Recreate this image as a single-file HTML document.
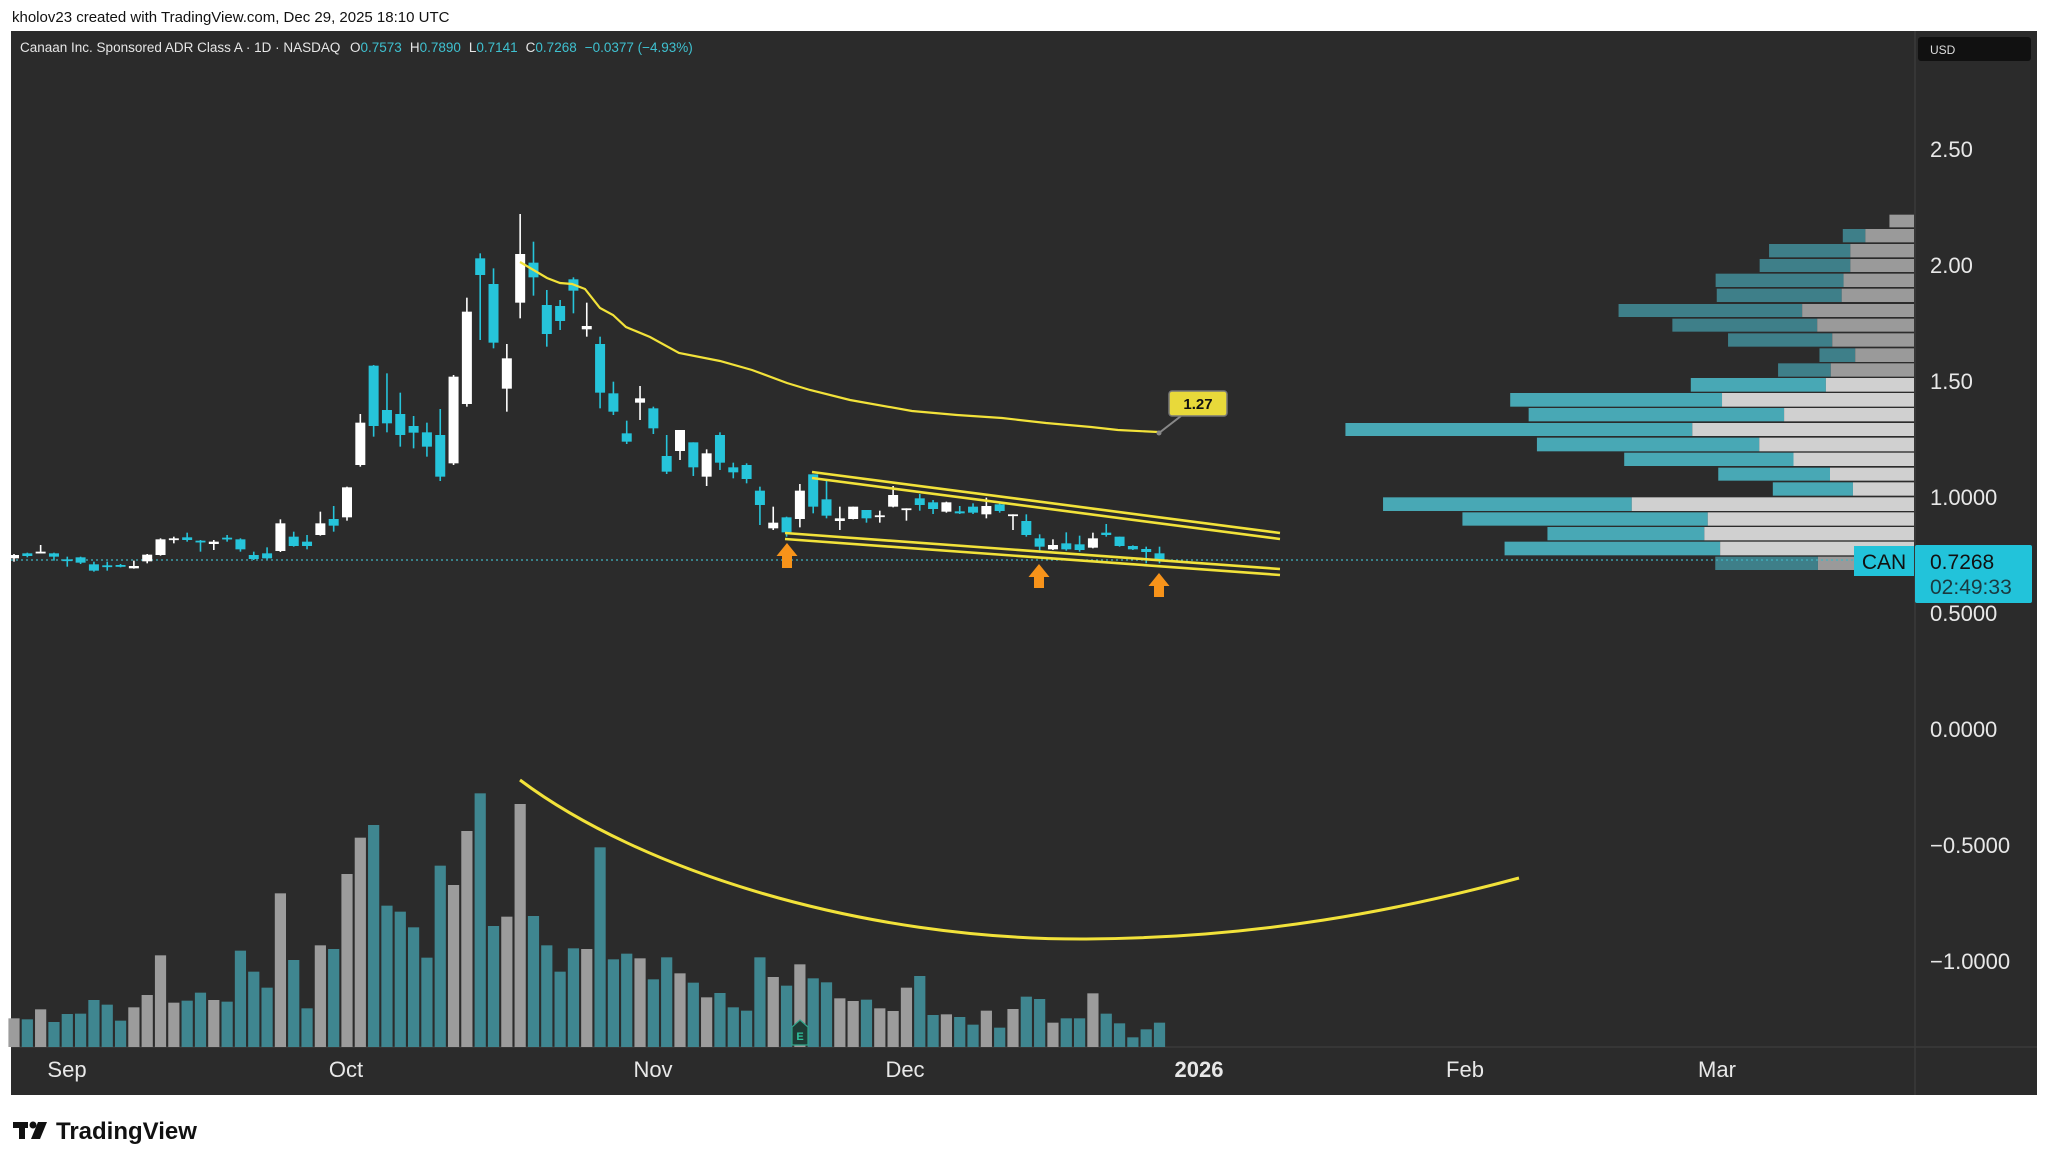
<!DOCTYPE html>
<html><head><meta charset="utf-8">
<style>
html,body{margin:0;padding:0;background:#fff;width:2048px;height:1163px;overflow:hidden;font-family:"Liberation Sans",sans-serif;}
svg{display:block}
</style></head>
<body>
<svg id="s" width="2048" height="1163" xmlns="http://www.w3.org/2000/svg" font-family="Liberation Sans, sans-serif">
<rect x="0" y="0" width="2048" height="1163" fill="#ffffff"/>
<text x="12" y="22" font-size="15" fill="#111">kholov23 created with TradingView.com, Dec 29, 2025 18:10 UTC</text>
<rect x="11" y="31" width="2026" height="1064" fill="#2b2b2b"/>
<line x1="1915" y1="31" x2="1915" y2="1095" stroke="#3a3a3a" stroke-width="1.5"/>
<line x1="11" y1="1047" x2="2037" y2="1047" stroke="#3a3a3a" stroke-width="1.5"/>
<g id="vol"></g>
<g id="vp"></g>
<line x1="11" y1="560" x2="1915" y2="560" stroke="#3fb6c4" stroke-width="1.3" stroke-dasharray="2,3"/>
<g id="candles"></g>
<path d="M520,262 L547,278 L560,283 L572,284 L585,289 L600,308 L613,315 L626,327 L650,337 L679,353 L720,361 L752,370 L787,383 L810,390 L850,400 L912,411 L957,415 L1002,418 L1046,423 L1091,427 L1118,430 L1158,432" fill="none" stroke="#f2e23a" stroke-width="2.2"/>
<g stroke="#f2e23a" stroke-width="2.6">
<line x1="812" y1="472" x2="1280" y2="533"/>
<line x1="812" y1="478" x2="1280" y2="539"/>
<line x1="785" y1="533" x2="1280" y2="569"/>
<line x1="785" y1="539" x2="1280" y2="575"/>
</g>
<line x1="1159" y1="433" x2="1181" y2="416" stroke="#888" stroke-width="2"/>
<circle cx="1159" cy="433" r="2.5" fill="#888"/>
<rect x="1169" y="391" width="58" height="25" rx="3" fill="#e8d93a" stroke="#777" stroke-width="1.5"/>
<text x="1198" y="409" font-size="15" font-weight="bold" fill="#111" text-anchor="middle">1.27</text>
<g fill="#f7931a">
<path d="M787,543 L797.5,556 L792,556 L792,568 L782,568 L782,556 L776.5,556 Z"/>
<path d="M1039,564 L1049.5,577 L1044,577 L1044,588 L1034,588 L1034,577 L1028.5,577 Z"/>
<path d="M1159,573 L1169.5,586 L1164,586 L1164,597 L1154,597 L1154,586 L1148.5,586 Z"/>
</g>
<path d="M520,780 C640,870 860,940 1086,939 C1260,938 1400,910 1519,878" fill="none" stroke="#f2e23a" stroke-width="3"/>
<g transform="translate(800,1020)">
<path d="M0,0 L8,7 L8,25 L-8,25 L-8,7 Z" fill="#1e3b35" stroke="#2fa58a" stroke-width="1.2"/>
<text x="0" y="20" font-size="11" fill="#2fc09a" text-anchor="middle" font-weight="bold">E</text>
</g>
<text x="20" y="52" font-size="13.5" fill="#e6e6e6">Canaan Inc. Sponsored ADR Class A · 1D · NASDAQ</text>
<text x="350" y="52" font-size="13.5"><tspan fill="#e6e6e6">O</tspan><tspan fill="#3fc1d0">0.7573</tspan><tspan fill="#e6e6e6" dx="8">H</tspan><tspan fill="#3fc1d0">0.7890</tspan><tspan fill="#e6e6e6" dx="8">L</tspan><tspan fill="#3fc1d0">0.7141</tspan><tspan fill="#e6e6e6" dx="8">C</tspan><tspan fill="#3fc1d0">0.7268</tspan><tspan fill="#3fc1d0" dx="8">−0.0377 (−4.93%)</tspan></text>
<rect x="1918" y="37" width="113" height="24" rx="3" fill="#111"/>
<text x="1930" y="54" font-size="12" fill="#ddd">USD</text>
<g font-size="22" fill="#e8e8e8">
<text x="1930" y="157">2.50</text>
<text x="1930" y="273">2.00</text>
<text x="1930" y="389">1.50</text>
<text x="1930" y="505">1.0000</text>
<text x="1930" y="621">0.5000</text>
<text x="1930" y="737">0.0000</text>
<text x="1930" y="853">−0.5000</text>
<text x="1930" y="969">−1.0000</text>
</g>
<rect x="1854" y="546" width="60" height="30" fill="#22c3da"/>
<text x="1884" y="569" font-size="21" fill="#111" text-anchor="middle">CAN</text>
<rect x="1915" y="545" width="117" height="58" rx="2" fill="#22c3da"/>
<text x="1930" y="569" font-size="21" fill="#111">0.7268</text>
<text x="1930" y="594" font-size="21" fill="#1a3a40">02:49:33</text>
<g font-size="22" fill="#e8e8e8">
<text x="67" y="1077" text-anchor="middle">Sep</text>
<text x="346" y="1077" text-anchor="middle">Oct</text>
<text x="653" y="1077" text-anchor="middle">Nov</text>
<text x="905" y="1077" text-anchor="middle">Dec</text>
<text x="1199" y="1077" text-anchor="middle" font-weight="bold">2026</text>
<text x="1465" y="1077" text-anchor="middle">Feb</text>
<text x="1717" y="1077" text-anchor="middle">Mar</text>
</g>
<g fill="#111">
<rect x="13" y="1122" width="15" height="6"/>
<rect x="19" y="1122" width="6" height="17"/>
<circle cx="33" cy="1125" r="3.5"/>
<path d="M38,1122 L47,1122 L40,1139 L31,1139 Z"/>
</g>
<text x="56" y="1139" font-size="24" font-weight="bold" fill="#111">TradingView</text>
</svg>
<script>
var NS="http://www.w3.org/2000/svg";
function el(p,t,a){var e=document.createElementNS(NS,t);for(var k in a)e.setAttribute(k,a[k]);p.appendChild(e);return e;}
var C="#26c4da",W="#ffffff";
// zoom3 data: [color, wt, bt, bb, wb], y=200+v/3
var A=[["w",1062,1065,1075,1085],["c",1058,1060,1068,1072],["w",1035,1055,1058,1060],["c",1058,1060,1070,1082],["c",1070,1078,1080,1100],["c",1070,1072,1088,1092],["c",1085,1093,1112,1115],["c",1085,1096,1098,1112],["c",1092,1095,1100,1102],["w",1082,1098,1105,1106],["w",1062,1064,1084,1090],["w",1015,1018,1065,1067],["w",1010,1015,1018,1030],["c",998,1012,1020,1025],["c",1020,1022,1025,1055],["w",1020,1025,1032,1050],["c",1005,1013,1017,1025],["c",1015,1018,1048,1055],["c",1055,1065,1077,1080],["c",1042,1060,1075,1078],["w",958,970,1053,1056],["c",995,1010,1038,1040],["c",1005,1025,1038,1048],["w",935,970,1005,1007],["c",918,957,977,995],["w",860,862,952,962],["w",642,668,795,800],["c",495,497,678,710],["c",520,630,670,697],["c",578,642,705,740],["c",648,678,698,745],["c",668,697,740,770],["c",627,705,830,843],["w",525,530,790,795],["w",293,335,612,620],["c",160,175,225,420],["c",205,252,428,445],["w",432,475,566,635],["w",42,162,308,355],["c",125,188,232,287],["c",270,315,402,440],["c",300,318,363,390],["c",232,238,272,340],["w",308,378,388,410],["c",410,432,578,625]];
// zoom4 data y=370+v/3
var B=[["c",35,70,125,135],["c",152,190,215,222],["w",48,85,98,150],["c",110,115,175,192],["c",195,258,305,312],["w",180,180,243,270],["c",217,217,292,318],["w",238,250,320,348],["c",187,195,278,300],["c",278,292,307,325],["c",280,285,327,340],["c",350,362,405,465],["w",410,458,475,480],["c",440,442,487,500],["w",342,362,447,472],["c",313,313,410,430],["c",330,388,437,445],["w",410,445,453,480],["w",410,410,447,448],["c",420,420,445,458],["w",422,436,438,458],["w",348,375,410,412],["w",415,415,418,452],["c",372,385,405,422],["c",390,397,417,432],["w",395,397,425,428],["c",408,424,430,432],["c",400,410,428,432],["w",383,408,433,445],["c",400,403,423,428],["w",433,433,436,480],["c",433,453,495,500],["c",493,505,530,548],["w",508,525,538,540],["c",487,520,538,542],["c",497,523,540,545],["w",488,505,533,535],["c",462,488,495,500],["c",500,500,528,530],["c",526,528,538,540],["c",530,537,546,580],["c",530,550,572,580]];
var cg=document.getElementById("candles");
function draw(arr,off,start){arr.forEach(function(d,j){var i=start+j,x=14+i*13.32,col=d[0]=="c"?C:W;
var wt=off+d[1]/3,bt=off+d[2]/3,bb=off+d[3]/3,wb=off+d[4]/3;
el(cg,"line",{x1:x,y1:wt,x2:x,y2:wb,stroke:col,"stroke-width":1.6});
el(cg,"rect",{x:x-5,y:bt,width:10,height:Math.max(bb-bt,1.8),fill:col});});}
draw(A,200,0);draw(B,370,45);
var V=[["g",715],["t",718],["g",688],["t",726],["t",702],["t",701],["t",660],["t",674],["t",722],["g",682],["g",645],["g",526],["g",668],["t",662],["t",638],["g",660],["t",665],["t",512],["t",575],["t",623],["g",340],["t",540],["t",685],["g",496],["t",507],["g",282],["g",173],["t",135],["t",377],["t",395],["t",442],["t",533],["t",257],["g",315],["g",153],["t",40],["t",438],["g",410],["g",72],["t",408],["t",496],["t",575],["t",505],["g",507],["t",202],["t",538],["t",521],["g",535],["t",598],["t",532],["g",580],["t",608],["g",652],["t",639],["t",682],["t",692],["t",532],["g",591],["t",617],["g",553],["t",595],["t",607],["g",655],["g",663],["t",659],["g",685],["g",693],["g",623],["t",588],["t",705],["g",703],["t",711],["t",734],["g",692],["t",743],["g",687],["t",650],["t",657],["g",728],["t",715],["t",715],["g",640],["t",701],["t",730],["t",772],["t",748],["t",728]];
var vg=document.getElementById("vol");
V.forEach(function(d,i){var x=14+i*13.32,top=780+d[1]/3;el(vg,"rect",{x:x-5.6,y:top,width:11.2,height:1047-top,fill:d[0]=="g"?"#9c9c9c":"#3f8690"});});
var R=[[44,82,1487,1487,0],[87,127,1363,1423,0],[132,172,1167,1383,0],[177,216,1142,1383,0],[221,261,1025,1365,0],[266,306,1028,1360,0],[312,351,767,1255,0],[356,395,910,1295,0],[400,440,1058,1335,0],[445,486,1301,1396,0],[490,530,1191,1331,0],[534,575,959,1318,1],[579,620,479,1042,1],[624,664,528,1207,1],[669,708,41,963,1],[713,754,550,1141,1],[758,798,782,1232,1],[803,842,1032,1329,1],[847,887,1177,1390,1],[892,933,141,802,1],[937,977,352,1004,1],[981,1021,578,995,1],[1025,1066,464,1037,1],[1070,1110,1024,1297,0]];
var pg=document.getElementById("vp");
R.forEach(function(r){var y1=200+r[0]/3,y2=200+r[1]/3,xl=1330+r[2]/2.658,xs=1330+r[3]/2.658,xr=1914;
var tc=r[4]?"#48a8b5":"#3e7f89",gc=r[4]?"#d0d0d0":"#9a9a9a";
if(xs>xl)el(pg,"rect",{x:xl,y:y1,width:xs-xl,height:y2-y1,fill:tc});
el(pg,"rect",{x:xs,y:y1,width:xr-xs,height:y2-y1,fill:gc});});
</script>
</body></html>
